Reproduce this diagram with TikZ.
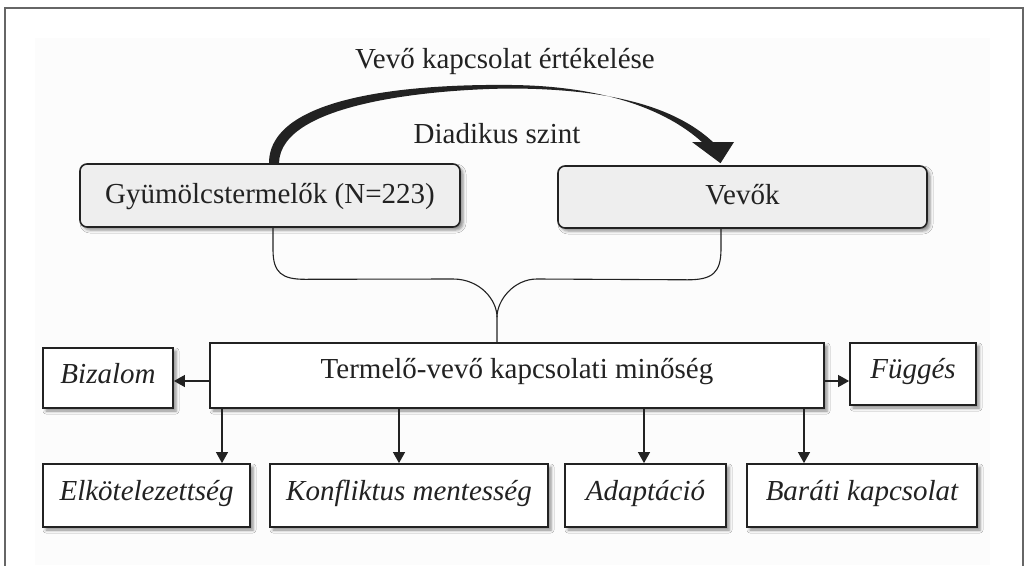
\documentclass[tikz,border=0pt]{standalone}
\usepackage{fontspec}
\setmainfont{Liberation Serif}
\usetikzlibrary{arrows.meta,calc,shadows.blur}
\definecolor{ink}{HTML}{222222}
\definecolor{frame}{HTML}{666666}
\definecolor{boxfill}{HTML}{EEEEEE}
\tikzset{
  x=1pt, y=-1pt,
  every node/.style={font=\fontsize{29}{34}\selectfont, text=ink, inner sep=0pt},
  sh/.style={blur shadow={shadow xshift=3pt, shadow yshift=-3pt, shadow blur radius=3pt, shadow opacity=45}},
  topbox/.style={draw=ink, line width=1.6pt, fill=boxfill, rounded corners=7pt, sh, text height=22pt, text depth=7pt},
  plainbox/.style={draw=ink, line width=1.8pt, fill=white, sh, text height=20pt, text depth=11pt},
  itbox/.style={plainbox, font=\fontsize{29}{34}\selectfont\itshape},
  arr/.style={draw=ink, line width=1.1pt, -{Triangle[width=12pt,length=11pt]}},
  brace/.style={draw=ink, line width=1.1pt},
}
\begin{document}
\begin{tikzpicture}
\useasboundingbox (0,0) rectangle (1024,565);
% faint background and outer frame
\fill[gray!2] (35,38) rectangle (990,565);
\draw[frame, line width=1.5pt] (5,566) -- (5,8) -- (1023,8) -- (1023,566);

% top boxes
\node[topbox, minimum width=380pt, minimum height=63pt] (gy) at (270,195.5) {Gyümölcstermelők (N=223)};
\node[topbox, minimum width=369pt, minimum height=62pt] (vv) at (742.5,197) {Vevők};

% labels
\node[anchor=base] (lab1) at (505,68) {Vevő kapcsolat értékelése};
\node[anchor=base] (lab2) at (497,143) {Diadikus szint};

% main box
\node[plainbox, minimum width=614pt, minimum height=65pt, text depth=15pt] (main) at (517,375.5) {Termelő-vevő kapcsolati minőség};

% side boxes
\node[itbox, minimum width=130pt, minimum height=60pt, text depth=10pt] (biz) at (108,378) {Bizalom};
\node[itbox, minimum width=126pt, minimum height=62pt, text depth=12pt] (fug) at (913,374) {Függés};

% bottom row
\node[itbox, minimum width=207pt, minimum height=63pt] (elk) at (146.5,495.5) {Elkötelezettség};
\node[itbox, minimum width=278pt, minimum height=63pt] (kon) at (409,495.5) {Konfliktus mentesség};
\node[itbox, minimum width=161pt, minimum height=63pt] (ada) at (645.5,495.5) {Adaptáció};
\node[itbox, minimum width=230pt, minimum height=63pt] (bar) at (862,495.5) {Baráti kapcsolat};

% thick tapered arrow from gy to vv
\fill[ink] ($(gy.north)+(-1,0)$) .. controls ($(gy.north)+(-1,-72)$) and (430,84) .. (512,85)
  .. controls (600,86) and (665,108) .. (703,143) -- (714,143)
  .. controls (672,103) and (600,89) .. (512,88.5)
  .. controls (440,89) and ($(gy.north)+(10,-62)$) .. ($(gy.north)+(9,0)$) -- cycle;
\fill[ink] (692,142) -- (734,142) -- ($(vv.north)+(-22,-2)$) -- cycle;

% brace
\coordinate (tip) at ($(main.north)+(-20,-25)$);
\draw[brace] ($(gy.south)+(3,0)$) -- ($(gy.south)+(3,22)$) .. controls ($(gy.south)+(3,45)$) and ($(gy.south)+(12,51.5)$) .. ($(gy.south)+(35,51.5)$)
  -- (453,279) .. controls (480,279) and (497,300) .. (tip) -- (main.north -| tip);
\draw[brace] ($(vv.south)+(-21.5,0)$) -- ($(vv.south)+(-21.5,20)$) .. controls ($(vv.south)+(-21.5,44)$) and ($(vv.south)+(-30,51)$) .. ($(vv.south)+(-55,51)$)
  -- (537,279) .. controls (514,279) and (497,300) .. (tip);

% thin arrows
\draw[arr] (main.west |- 0,381) -- (biz.east |- 0,381);
\draw[arr] (main.east |- 0,381) -- (fug.west |- 0,381);
\draw[arr] (222,0 |- main.south) -- (222,0 |- elk.north);
\draw[arr] (399,0 |- main.south) -- (399,0 |- kon.north);
\draw[arr] (644,0 |- main.south) -- (644,0 |- ada.north);
\draw[arr] (804,0 |- main.south) -- (804,0 |- bar.north);
\end{tikzpicture}
\end{document}
